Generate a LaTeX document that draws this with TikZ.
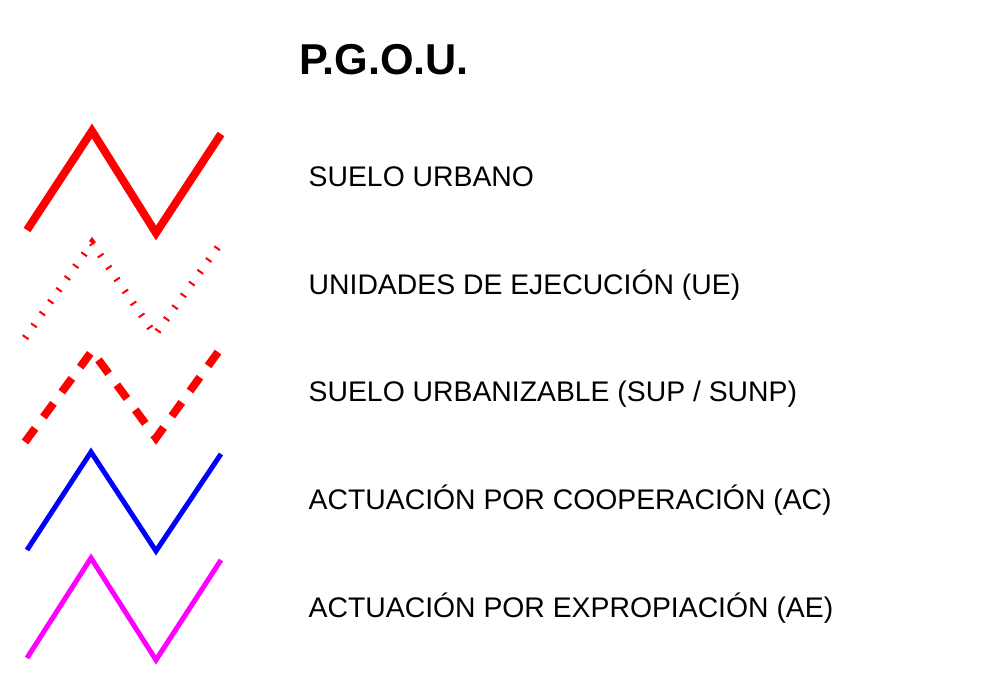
\documentclass[tikz,border=0pt]{standalone}
\usepackage{fontspec}
\setmainfont{Liberation Sans}
\usetikzlibrary{positioning}
\definecolor{rojo}{RGB}{255,0,0}
\definecolor{azul}{RGB}{0,0,255}
\definecolor{fucsia}{RGB}{255,0,255}

\begin{document}
\begin{tikzpicture}[x=1pt,y=-1pt,line join=miter,
                lbl/.style={anchor=base west,inner sep=0pt,font=\fontsize{28.35}{32}\selectfont},
                urbano/.style={draw=rojo,line width=8pt},
                unidades/.style={draw=rojo,line width=7pt,dash pattern=on 2pt off 12.5pt},
                urbanizable/.style={draw=rojo,line width=8pt,dash pattern=on 17pt off 14pt},
                cooperacion/.style={draw=azul,line width=5pt},
                expropiacion/.style={draw=fucsia,line width=5pt}]
	\useasboundingbox (0,0) rectangle (988,700);
	\node[anchor=base west,inner sep=0pt,font=\fontsize{43.2}{48}\selectfont\bfseries] (titulo) at (299,75) {P.G.O.U.};

	\node[lbl] (1) at (308.5,187) {SUELO URBANO};
	\node[lbl] (2) [below=107.5pt of 1.base west,anchor=base west] {UNIDADES DE EJECUCIÓN (UE)};
	\node[lbl] (3) [below=107.5pt of 2.base west,anchor=base west] {SUELO URBANIZABLE (SUP / SUNP)};
	\node[lbl] (4) [below=107.5pt of 3.base west,anchor=base west] {ACTUACIÓN POR COOPERACIÓN (AC)};
	\node[lbl] (5) [below=107.5pt of 4.base west,anchor=base west] {ACTUACIÓN POR EXPROPIACIÓN (AE)};

	% muestras de linea
	\draw[urbano] (27,230) -- (92,131) -- (156,233) -- (221,134);
	\draw[unidades] (25,338) -- (92,243) -- (155,335) -- (223,240);
	\draw[urbanizable] (25,442) -- (92,351) -- (156,438) -- (221,348);
	\draw[cooperacion] (27,550) -- (91,452) -- (156,551) -- (221,454);
	\draw[expropiacion] (27,658) -- (91,558) -- (156,660) -- (221,560);
\end{tikzpicture}
\end{document}
